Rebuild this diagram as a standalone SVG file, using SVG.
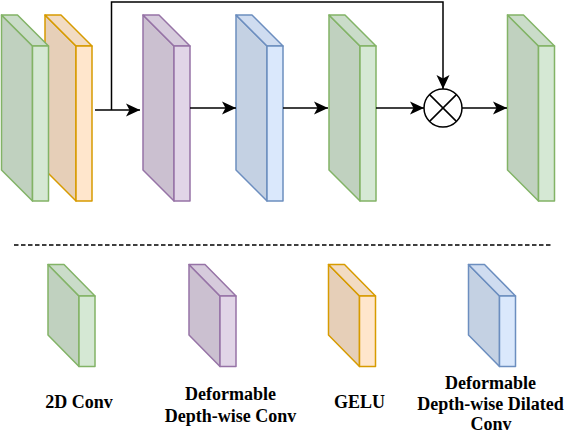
<svg xmlns="http://www.w3.org/2000/svg" width="566" height="434" viewBox="0 0 566 434">
<style>
.s{stroke-width:1.5;stroke-linejoin:round}
.g{stroke:#82b366}
.g .d{fill:#c0d1bf}.g .t{fill:#cadcc9}.g .f{fill:#d5e8d4}
.o{stroke:#d79b00}
.o .d{fill:#e6cfb8}.o .t{fill:#f2dbc2}.o .f{fill:#ffe6cc}
.p{stroke:#9673a6}
.p .d{fill:#cbc0d0}.p .t{fill:#d6cbdc}.p .f{fill:#e1d5e7}
.b{stroke:#6c8ebf}
.b .d{fill:#c4d1e3}.b .t{fill:#cfdcf0}.b .f{fill:#dae8fc}
.c{fill:none;stroke:#000;stroke-width:1.5}
.lbl{font-family:"Liberation Serif","Times New Roman",serif;font-weight:bold;font-size:18px;fill:#000;text-anchor:middle}
</style>
<defs>
<marker id="ah" markerUnits="userSpaceOnUse" markerWidth="15" markerHeight="14" refX="14" refY="7" orient="auto">
<path d="M0,0.5 L14,7 L0,13.5 L3.5,7 Z" fill="#000"/>
</marker>
</defs>

<g id="gelu-main" class="s o" transform="translate(45,0)">
<polygon class="d" points="0,15 31,46 31,201 0,170"/>
<polygon class="t" points="0,15 16,15 47,46 31,46"/>
<rect class="f" x="31" y="46" width="16" height="155"/>
</g>
<g id="conv2d-main" class="s g" transform="translate(1.5,0)">
<polygon class="d" points="0,15 31,46 31,201 0,170"/>
<polygon class="t" points="0,15 16,15 47,46 31,46"/>
<rect class="f" x="31" y="46" width="16" height="155"/>
</g>
<g id="deform-dw" class="s p" transform="translate(143,0)">
<polygon class="d" points="0,15 31,46 31,201 0,170"/>
<polygon class="t" points="0,15 16,15 47,46 31,46"/>
<rect class="f" x="31" y="46" width="16" height="155"/>
</g>
<g id="deform-dw-dilated" class="s b" transform="translate(236,0)">
<polygon class="d" points="0,15 31,46 31,201 0,170"/>
<polygon class="t" points="0,15 16,15 47,46 31,46"/>
<rect class="f" x="31" y="46" width="16" height="155"/>
</g>
<g id="conv2d-b" class="s g" transform="translate(329,0)">
<polygon class="d" points="0,15 31,46 31,201 0,170"/>
<polygon class="t" points="0,15 16,15 47,46 31,46"/>
<rect class="f" x="31" y="46" width="16" height="155"/>
</g>
<g id="conv2d-out" class="s g" transform="translate(507.5,0)">
<polygon class="d" points="0,15 31,46 31,201 0,170"/>
<polygon class="t" points="0,15 16,15 47,46 31,46"/>
<rect class="f" x="31" y="46" width="16" height="155"/>
</g>

<g id="multiply">
<circle cx="443" cy="108" r="19" fill="#fff" stroke="#000" stroke-width="1.5"/>
<path d="M429.6,94.6 L456.4,121.4 M456.4,94.6 L429.6,121.4" stroke="#000" stroke-width="1.5"/>
</g>

<g id="connectors">
<path class="c" d="M95,110 L140,110" marker-end="url(#ah)"/>
<path class="c" d="M111.5,110 L111.5,2 L443,2 L443,89" marker-end="url(#ah)"/>
<path class="c" d="M190,108 L236,108" marker-end="url(#ah)"/>
<path class="c" d="M283,108 L328,108" marker-end="url(#ah)"/>
<path class="c" d="M376,108 L424,108" marker-end="url(#ah)"/>
<path class="c" d="M462,108 L507,108" marker-end="url(#ah)"/>
</g>

<line x1="14" y1="245" x2="551" y2="245" stroke="#000" stroke-width="1.5" stroke-dasharray="4.5 2.5"/>

<g id="legend-conv2d" class="s g" transform="translate(48,0)">
<polygon class="d" points="0,264.5 31,296 31,366.5 0,335"/>
<polygon class="t" points="0,264.5 16,264.5 47,296 31,296"/>
<rect class="f" x="31" y="296" width="16" height="70.5"/>
</g>
<g id="legend-deform-dw" class="s p" transform="translate(189,0)">
<polygon class="d" points="0,264.5 31,296 31,366.5 0,335"/>
<polygon class="t" points="0,264.5 16,264.5 47,296 31,296"/>
<rect class="f" x="31" y="296" width="16" height="70.5"/>
</g>
<g id="legend-gelu" class="s o" transform="translate(328.5,0)">
<polygon class="d" points="0,264.5 31,296 31,366.5 0,335"/>
<polygon class="t" points="0,264.5 16,264.5 47,296 31,296"/>
<rect class="f" x="31" y="296" width="16" height="70.5"/>
</g>
<g id="legend-deform-dw-dilated" class="s b" transform="translate(468.5,0)">
<polygon class="d" points="0,264.5 31,296 31,366.5 0,335"/>
<polygon class="t" points="0,264.5 16,264.5 47,296 31,296"/>
<rect class="f" x="31" y="296" width="16" height="70.5"/>
</g>

<g id="labels">
<text class="lbl" x="79" y="408">2D Conv</text>
<text class="lbl" x="230.5" y="400">Deformable</text>
<text class="lbl" x="230.5" y="421.5">Depth-wise Conv</text>
<text class="lbl" x="359.5" y="408">GELU</text>
<text class="lbl" x="490.5" y="389">Deformable</text>
<text class="lbl" x="490.5" y="410">Depth-wise Dilated</text>
<text class="lbl" x="491" y="430">Conv</text>
</g>
</svg>
